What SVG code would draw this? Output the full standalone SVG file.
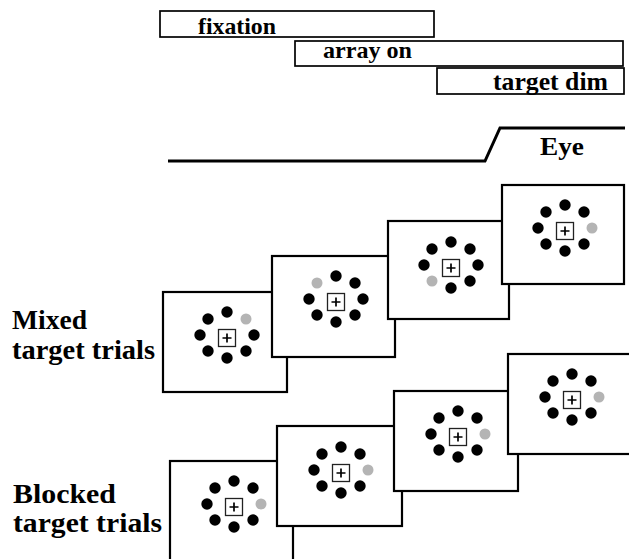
<svg xmlns="http://www.w3.org/2000/svg" xmlns:xlink="http://www.w3.org/1999/xlink" width="629" height="559" viewBox="0 0 629 559">
<style>
.bar{fill:#fff;stroke:#000;stroke-width:1.7}
.lbl{font-weight:bold;fill:#000}
.panel{fill:#fff;stroke:#000;stroke-width:2.2}
.dot{fill:#000}
.gdot{fill:#b4b4b4}
.fx{fill:#fff;stroke:#222;stroke-width:1.3}
.cr{stroke:#000;stroke-width:1.7;fill:none}
.eye{fill:none;stroke:#000;stroke-width:3}
</style>
<defs>
<g id="fixpt">
<rect class="fx" x="-8.5" y="-8.5" width="17" height="17"/>
<path class="cr" d="M-4.5 0H4.5M0 -4.5V4.5"/>
</g>
</defs>
<rect width="629" height="559" fill="#fff"/>
<g font-family="Liberation Serif, DejaVu Serif, serif">
<g id="bar-fixation">
<rect class="bar" x="160" y="11" width="274" height="26"/>
<text class="lbl" x="198" y="34" font-size="24" textLength="78" lengthAdjust="spacingAndGlyphs">fixation</text>
</g>
<g id="bar-array-on">
<rect class="bar" x="295" y="41" width="328" height="25"/>
<text class="lbl" x="323" y="58" font-size="24" textLength="89" lengthAdjust="spacingAndGlyphs">array on</text>
</g>
<g id="bar-target-dim">
<rect class="bar" x="437" y="68" width="187" height="26"/>
<text class="lbl" x="493" y="90" font-size="25" textLength="115" lengthAdjust="spacingAndGlyphs">target dim</text>
</g>
<g id="eye-trace">
<polyline class="eye" points="168,161 485,161 500,128 625,128"/>
<text class="lbl" x="540" y="155" font-size="26" textLength="44" lengthAdjust="spacingAndGlyphs">Eye</text>
</g>
<g id="label-mixed">
<text class="lbl" x="12" y="329" font-size="27.5" textLength="75" lengthAdjust="spacingAndGlyphs">Mixed</text>
<text class="lbl" x="12" y="359" font-size="27.5" textLength="143" lengthAdjust="spacingAndGlyphs">target trials</text>
</g>
<g id="label-blocked">
<text class="lbl" x="13" y="503" font-size="28" textLength="103" lengthAdjust="spacingAndGlyphs">Blocked</text>
<text class="lbl" x="13" y="532" font-size="28" textLength="149" lengthAdjust="spacingAndGlyphs">target trials</text>
</g>
</g>
<g id="panel-m1">
<rect class="panel" x="163" y="292" width="124" height="100"/>
<g transform="translate(227,338)">
<use xlink:href="#fixpt"/>
<circle class="dot" cx="27" cy="-3" r="5.7"/><circle class="dot" cx="19" cy="13" r="5.7"/><circle class="dot" cx="0" cy="20" r="5.7"/><circle class="dot" cx="-19" cy="13" r="5.7"/><circle class="dot" cx="-27" cy="-3" r="5.7"/><circle class="dot" cx="-19" cy="-19" r="5.7"/><circle class="dot" cx="0" cy="-26" r="5.7"/><circle class="gdot" cx="19" cy="-19" r="5.5"/>
</g>
</g>
<g id="panel-m2">
<rect class="panel" x="272" y="256" width="123" height="101"/>
<g transform="translate(336,302)">
<use xlink:href="#fixpt"/>
<circle class="dot" cx="27" cy="-3" r="5.7"/><circle class="dot" cx="19" cy="13" r="5.7"/><circle class="dot" cx="0" cy="20" r="5.7"/><circle class="dot" cx="-19" cy="13" r="5.7"/><circle class="dot" cx="-27" cy="-3" r="5.7"/><circle class="gdot" cx="-19" cy="-19" r="5.5"/><circle class="dot" cx="0" cy="-26" r="5.7"/><circle class="dot" cx="19" cy="-19" r="5.7"/>
</g>
</g>
<g id="panel-m3">
<rect class="panel" x="388" y="221" width="121" height="98"/>
<g transform="translate(451,268)">
<use xlink:href="#fixpt"/>
<circle class="dot" cx="27" cy="-3" r="5.7"/><circle class="dot" cx="19" cy="13" r="5.7"/><circle class="dot" cx="0" cy="20" r="5.7"/><circle class="gdot" cx="-19" cy="13" r="5.5"/><circle class="dot" cx="-27" cy="-3" r="5.7"/><circle class="dot" cx="-19" cy="-19" r="5.7"/><circle class="dot" cx="0" cy="-26" r="5.7"/><circle class="dot" cx="19" cy="-19" r="5.7"/>
</g>
</g>
<g id="panel-m4">
<rect class="panel" x="502" y="185" width="122" height="99"/>
<g transform="translate(565,231)">
<use xlink:href="#fixpt"/>
<circle class="gdot" cx="27" cy="-3" r="5.5"/><circle class="dot" cx="19" cy="13" r="5.7"/><circle class="dot" cx="0" cy="20" r="5.7"/><circle class="dot" cx="-19" cy="13" r="5.7"/><circle class="dot" cx="-27" cy="-3" r="5.7"/><circle class="dot" cx="-19" cy="-19" r="5.7"/><circle class="dot" cx="0" cy="-26" r="5.7"/><circle class="dot" cx="19" cy="-19" r="5.7"/>
</g>
</g>
<g id="panel-b1">
<rect class="panel" x="170" y="461" width="123" height="120"/>
<g transform="translate(234,507)">
<use xlink:href="#fixpt"/>
<circle class="gdot" cx="27" cy="-3" r="5.5"/><circle class="dot" cx="19" cy="13" r="5.7"/><circle class="dot" cx="0" cy="20" r="5.7"/><circle class="dot" cx="-19" cy="13" r="5.7"/><circle class="dot" cx="-27" cy="-3" r="5.7"/><circle class="dot" cx="-19" cy="-19" r="5.7"/><circle class="dot" cx="0" cy="-26" r="5.7"/><circle class="dot" cx="19" cy="-19" r="5.7"/>
</g>
</g>
<g id="panel-b2">
<rect class="panel" x="277" y="426" width="125" height="100"/>
<g transform="translate(341,473)">
<use xlink:href="#fixpt"/>
<circle class="gdot" cx="27" cy="-3" r="5.5"/><circle class="dot" cx="19" cy="13" r="5.7"/><circle class="dot" cx="0" cy="20" r="5.7"/><circle class="dot" cx="-19" cy="13" r="5.7"/><circle class="dot" cx="-27" cy="-3" r="5.7"/><circle class="dot" cx="-19" cy="-19" r="5.7"/><circle class="dot" cx="0" cy="-26" r="5.7"/><circle class="dot" cx="19" cy="-19" r="5.7"/>
</g>
</g>
<g id="panel-b3">
<rect class="panel" x="394" y="391" width="124" height="100"/>
<g transform="translate(458,437)">
<use xlink:href="#fixpt"/>
<circle class="gdot" cx="27" cy="-3" r="5.5"/><circle class="dot" cx="19" cy="13" r="5.7"/><circle class="dot" cx="0" cy="20" r="5.7"/><circle class="dot" cx="-19" cy="13" r="5.7"/><circle class="dot" cx="-27" cy="-3" r="5.7"/><circle class="dot" cx="-19" cy="-19" r="5.7"/><circle class="dot" cx="0" cy="-26" r="5.7"/><circle class="dot" cx="19" cy="-19" r="5.7"/>
</g>
</g>
<g id="panel-b4">
<rect class="panel" x="508" y="354" width="130" height="100"/>
<g transform="translate(572,400)">
<use xlink:href="#fixpt"/>
<circle class="gdot" cx="27" cy="-3" r="5.5"/><circle class="dot" cx="19" cy="13" r="5.7"/><circle class="dot" cx="0" cy="20" r="5.7"/><circle class="dot" cx="-19" cy="13" r="5.7"/><circle class="dot" cx="-27" cy="-3" r="5.7"/><circle class="dot" cx="-19" cy="-19" r="5.7"/><circle class="dot" cx="0" cy="-26" r="5.7"/><circle class="dot" cx="19" cy="-19" r="5.7"/>
</g>
</g>
</svg>
